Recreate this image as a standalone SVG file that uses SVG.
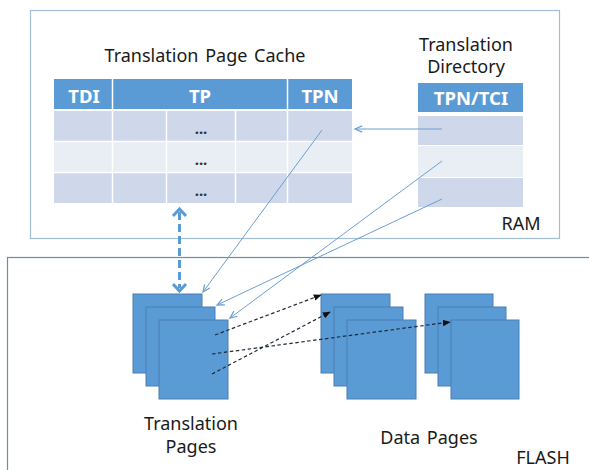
<svg xmlns="http://www.w3.org/2000/svg" width="589" height="470" viewBox="0 0 589 470">
<defs>
<style>
.lbl{font-family:"Noto Sans","Liberation Sans",sans-serif;font-size:18px;fill:#1a1a1a;text-anchor:middle}
.hdr{font-family:"Noto Sans","Liberation Sans",sans-serif;font-size:18.5px;font-weight:bold;fill:#ffffff;text-anchor:middle}
.dots{font-family:"Noto Sans","Liberation Sans",sans-serif;font-size:15px;font-weight:bold;fill:#333;text-anchor:middle}
.hcell{fill:#5b9bd5}
.dark{fill:#cfd8ea}
.light{fill:#e9edf4}
.sep{stroke:#ffffff;stroke-width:1.5}
.page{fill:#5b9bd5;stroke:#4a7fb5;stroke-width:1}
.blue{stroke:#6c9fd2;stroke-width:1;fill:none;marker-end:url(#bArrow)}
.dash{stroke:#1f2a38;stroke-width:1.2;stroke-dasharray:3.5,2.5;fill:none;marker-end:url(#kArrow)}
</style>
<marker id="bArrow" viewBox="0 0 10 10" refX="9" refY="5" markerWidth="9" markerHeight="9" markerUnits="userSpaceOnUse" orient="auto">
<path d="M1,1.5 L9,5 L1,8.5" fill="none" stroke="#6c9fd2" stroke-width="1.4"/>
</marker>
<marker id="kArrow" viewBox="0 0 10 10" refX="9" refY="5" markerWidth="8" markerHeight="8" markerUnits="userSpaceOnUse" orient="auto">
<path d="M0,1 L10,5 L0,9 z" fill="#111"/>
</marker>
</defs>
<rect width="589" height="470" fill="#ffffff"/>

<g id="ram">
<rect x="30.5" y="10.5" width="529" height="228" fill="none" stroke="#a3bfd8" stroke-width="1.2"/>
<text class="lbl" x="521" y="230">RAM</text>
</g>

<g id="flash">
<rect x="7.5" y="257.5" width="600" height="250" fill="none" stroke="#6e8ea6" stroke-width="1.2"/>
<text class="lbl" x="543" y="464">FLASH</text>
</g>

<g id="translation-page-cache">
<text class="lbl" x="205" y="62" word-spacing="2">Translation Page Cache</text>
<rect class="hcell" x="54" y="79" width="298" height="30"/>
<rect class="dark" x="54" y="111" width="298" height="30"/>
<rect class="light" x="54" y="142" width="298" height="30"/>
<rect class="dark" x="54" y="173" width="298" height="30"/>
<line class="sep" x1="54" y1="141.5" x2="352" y2="141.5"/>
<line class="sep" x1="54" y1="172.5" x2="352" y2="172.5"/>
<line class="sep" x1="112.5" y1="79" x2="112.5" y2="203"/>
<line class="sep" x1="287.5" y1="79" x2="287.5" y2="203"/>
<line class="sep" x1="166.5" y1="111" x2="166.5" y2="203"/>
<line class="sep" x1="235.5" y1="111" x2="235.5" y2="203"/>
<text class="hdr" x="84" y="102.5">TDI</text>
<text class="hdr" x="200" y="102.5">TP</text>
<text class="hdr" x="320" y="102.5">TPN</text>
<text class="dots" x="201" y="134">...</text>
<text class="dots" x="201" y="165">...</text>
<text class="dots" x="201" y="196">...</text>
</g>

<g id="translation-directory">
<text class="lbl" x="466" y="51">Translation</text>
<text class="lbl" x="466" y="73">Directory</text>
<rect class="hcell" x="418" y="83" width="105" height="29"/>
<rect class="dark" x="418" y="116" width="105" height="29"/>
<rect class="light" x="418" y="146" width="105" height="31"/>
<rect class="dark" x="418" y="178" width="105" height="29"/>
<text class="hdr" x="471" y="104.5">TPN/TCI</text>
</g>

<g id="translation-pages">
<rect class="page" x="133" y="294" width="69" height="79"/>
<rect class="page" x="146" y="307" width="69" height="79"/>
<rect class="page" x="159" y="320" width="69" height="79"/>
<text class="lbl" x="191" y="430">Translation</text>
<text class="lbl" x="191" y="453">Pages</text>
</g>

<g id="data-pages-1">
<rect class="page" x="321" y="294" width="69" height="79"/>
<rect class="page" x="334" y="307" width="69" height="79"/>
<rect class="page" x="347" y="320" width="69" height="79"/>
</g>

<g id="data-pages-2">
<rect class="page" x="425" y="294" width="68" height="79"/>
<rect class="page" x="438" y="307" width="68" height="79"/>
<rect class="page" x="451" y="320" width="68" height="79"/>
<text class="lbl" x="429" y="444" word-spacing="2">Data Pages</text>
</g>

<g id="connectors">
<line class="blue" x1="442" y1="129" x2="355" y2="129"/>
<line class="blue" x1="322" y1="130" x2="203" y2="292"/>
<line class="blue" x1="442" y1="161" x2="230" y2="318"/>
<line class="blue" x1="442" y1="199" x2="217" y2="305"/>
<line class="dash" x1="215" y1="335" x2="321" y2="295"/>
<line class="dash" x1="212" y1="374" x2="330" y2="312"/>
<line class="dash" x1="212" y1="354" x2="450" y2="322"/>
<g fill="none" stroke="#5b9bd5" stroke-width="3">
<line x1="179.5" y1="212" x2="179.5" y2="288" stroke-dasharray="8,4"/>
<path d="M173,216 L179.5,209 L186,216"/>
<path d="M173,284 L179.5,291 L186,284"/>
</g>
</g>
</svg>
